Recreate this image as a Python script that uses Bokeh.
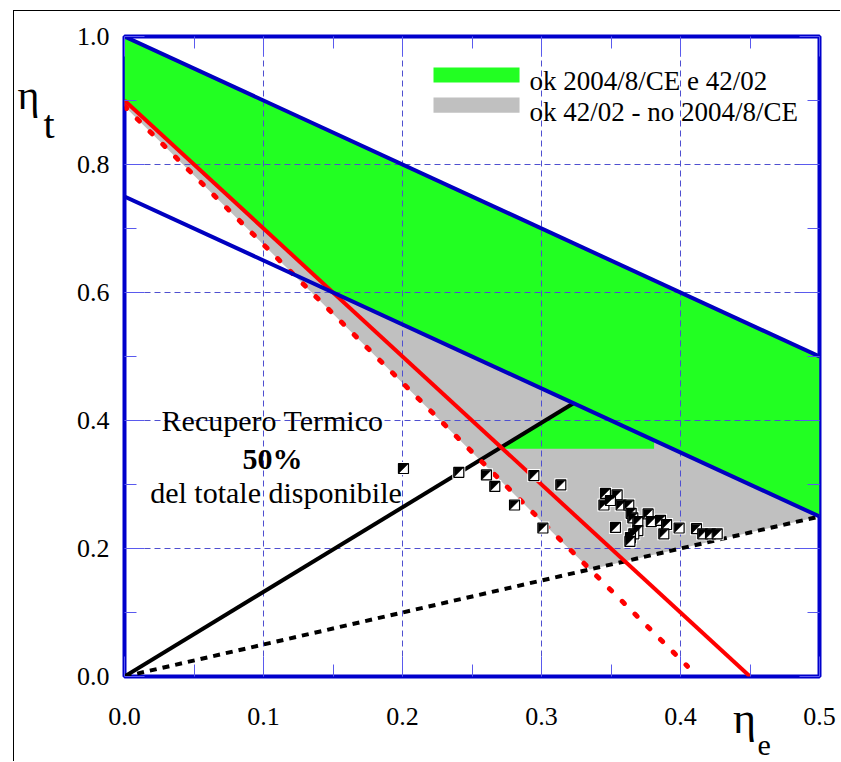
from bokeh.plotting import figure
from bokeh.models import LinearAxis, FixedTicker, Label, BoxAnnotation, Range1d, Grid
from bokeh.embed import file_html
from bokeh.resources import INLINE

# ---------------- data ----------------
x_major = [0.0, 0.1, 0.2, 0.3, 0.4, 0.5]
x_minor = [0.05, 0.15, 0.25, 0.35, 0.45]
x_tick_labels = ["0.0", "0.1", "0.2", "0.3", "0.4", "0.5"]
y_major = [0.0, 0.2, 0.4, 0.6, 0.8, 1.0]
y_minor = [0.1, 0.3, 0.5, 0.7, 0.9]
y_tick_labels = ["0.0", "0.2", "0.4", "0.6", "0.8", "1.0"]

# axis titles: symbol, subscript
y_title = ["η", "t"]
x_title = ["η", "e"]

# boundary lines (eta_e, eta_t)
blue_upper_x = [0.0, 0.5]
blue_upper_y = [1.0, 0.5]
blue_lower_x = [0.0, 0.5]
blue_lower_y = [0.75, 0.25]
red_x = [0.0, 0.45]
red_y = [0.9, 0.0]
red_dot_x = [0.0, 0.405]
red_dot_y = [0.891, 0.016]
black_x = [0.0, 0.323]
black_y = [0.0, 0.427]
black_dot_x = [0.0, 0.5]
black_dot_y = [0.0, 0.25]

# regions
green_xs = [[0.0, 0.5, 0.5, 0.15, 0.0], [0.270, 0.323, 0.381, 0.381]]
green_ys = [[1.0, 0.5, 0.25, 0.6, 0.9], [0.356, 0.427, 0.369, 0.356]]
gray_xs = [[0.0, 0.15, 0.5, 0.3348, 0.0]]
gray_ys = [[0.9, 0.6, 0.25, 0.167, 0.891]]

legend_labels = ["ok 2004/8/CE e 42/02", "ok 42/02 - no 2004/8/CE"]

# measured plants
eta_e = [0.2007, 0.2405, 0.2604, 0.2664, 0.2806, 0.2945, 0.3139, 0.301,
         0.346, 0.3544, 0.3449, 0.3496, 0.3573, 0.3628, 0.3645, 0.3657,
         0.3693, 0.3767, 0.379, 0.3856, 0.390, 0.388, 0.399, 0.3532,
         0.3693, 0.3664, 0.364, 0.3636, 0.4115, 0.416, 0.4216, 0.4264]
eta_t = [0.325, 0.319, 0.315, 0.297, 0.268, 0.314, 0.2995, 0.232,
         0.286, 0.284, 0.268, 0.275, 0.268, 0.268, 0.255, 0.248,
         0.242, 0.254, 0.242, 0.244, 0.2375, 0.223, 0.232, 0.233,
         0.228, 0.223, 0.217, 0.211, 0.231, 0.223, 0.223, 0.223]

# ---------------- style ----------------
FONT = "Liberation Serif"
BLUE = "#0000c0"
FRAME_W, FRAME_H = 695, 640
GREEN = "#22ff22"
GRAY = "#c0c0c0"
TICK = "#5a5aee"

p = figure(width=827, height=751, output_backend="svg", toolbar_location=None,
           x_range=Range1d(0, 0.5), y_range=Range1d(0, 1.0),
           min_border_left=110, min_border_right=22, min_border_top=25,
           min_border_bottom=86, x_axis_type=None, y_axis_type=None,
           background_fill_color="white", border_fill_color="white")
p.margin = (10, 0, 0, 13)
p.styles = {"border-left": "1px solid black", "border-top": "1px solid black"}

p.outline_line_color = "#0000cc"
p.outline_line_width = 4

xt = FixedTicker(ticks=x_major, minor_ticks=x_minor)
yt = FixedTicker(ticks=y_major, minor_ticks=y_minor)


def style_axis(ax):
    ax.axis_line_color = None
    ax.major_tick_in = 20
    ax.major_tick_out = 0
    ax.minor_tick_in = 12
    ax.minor_tick_out = 0
    ax.major_tick_line_color = TICK
    ax.minor_tick_line_color = TICK
    ax.major_tick_line_width = 1
    ax.minor_tick_line_width = 1
    ax.major_label_text_font = FONT
    ax.major_label_text_color = "black"
    ax.major_label_text_font_size = "26px"


def title_axis(ticks, labels, size, standoff):
    ax = LinearAxis(ticker=FixedTicker(ticks=ticks, minor_ticks=[]),
                    major_label_overrides=dict(zip(ticks, labels)))
    ax.axis_line_color = None
    ax.major_tick_line_color = None
    ax.minor_tick_line_color = None
    ax.major_tick_in = 0
    ax.major_tick_out = 0
    ax.minor_tick_in = 0
    ax.minor_tick_out = 0
    ax.major_label_text_font = FONT
    ax.major_label_text_color = "black"
    ax.major_label_text_font_size = size
    ax.major_label_standoff = standoff
    return ax


xb = LinearAxis(ticker=xt, major_label_overrides=dict(zip(x_major, x_tick_labels)))
style_axis(xb)
xb.major_label_standoff = 31
p.add_layout(xb, "below")
yl = LinearAxis(ticker=yt, major_label_overrides=dict(zip(y_major, y_tick_labels)))
style_axis(yl)
yl.major_label_standoff = 15
p.add_layout(yl, "left")

xa = LinearAxis(ticker=xt, major_label_overrides={v: "" for v in x_major})
style_axis(xa)
xa.major_label_standoff = 0
p.add_layout(xa, "above")
yr = LinearAxis(ticker=yt, major_label_overrides={v: "" for v in y_major})
style_axis(yr)
yr.major_label_standoff = 0
p.add_layout(yr, "right")

# axis titles eta_t (left, stacked outward) and eta_e (below, stacked downward)
p.add_layout(title_axis([0.863], [y_title[1]], "40px", 19), "left")
p.add_layout(title_axis([0.908], [y_title[0]], "42px", 1), "left")
p.add_layout(title_axis([0.446], [x_title[0]], "44px", -34), "below")
p.add_layout(title_axis([0.4601], [x_title[1]], "30px", -10), "below")

gx = Grid(dimension=0, ticker=FixedTicker(ticks=x_major))
gy = Grid(dimension=1, ticker=FixedTicker(ticks=y_major))
for g in (gx, gy):
    g.grid_line_color = "#4f4fd0"
    g.grid_line_dash = "6 4"
    g.grid_line_width = 1
    g.level = "underlay"
    p.add_layout(g)

# regions
p.patches(gray_xs, gray_ys, fill_color=GRAY, line_color=None, level="image")
p.patches(green_xs, green_ys, fill_color=GREEN, line_color=None, level="image")

# lines
p.line(black_dot_x, black_dot_y, line_color="black", line_width=4, line_dash="7 6")
p.line(black_x, black_y, line_color="black", line_width=4)
p.line(red_dot_x, red_dot_y, line_color="#ff0000", line_width=5, line_dash="3 15",
       line_cap="round")
p.line(red_x, red_y, line_color="#ff0000", line_width=4)
p.line(blue_upper_x, blue_upper_y, line_color=BLUE, line_width=4)
p.line(blue_lower_x, blue_lower_y, line_color=BLUE, line_width=4)

# markers: white halo, white square, black upper-left half
p.scatter(eta_e, eta_t, marker="square", size=13, fill_color="white", line_color=None)
p.scatter(eta_e, eta_t, marker="square", size=10, fill_color="white",
          line_color="black", line_width=1.2)
hx = 4.5 * 0.5 / FRAME_W
hy = 4.5 * 1.0 / FRAME_H
tri_xs = [[x - hx, x - hx, x + hx] for x in eta_e]
tri_ys = [[y - hy, y + hy, y + hy] for y in eta_t]
p.patches(tri_xs, tri_ys, fill_color="black", line_color="black", line_width=0.5)

# legend (manual)
p.add_layout(BoxAnnotation(left=0.2223, right=0.2842, bottom=0.928, top=0.9516,
                           fill_color=GREEN, fill_alpha=1, line_color=None))
p.add_layout(BoxAnnotation(left=0.2223, right=0.2842, bottom=0.881, top=0.9047,
                           fill_color=GRAY, fill_alpha=1, line_color=None))
for lab, yb in zip(legend_labels, [0.9302, 0.8817]):
    p.add_layout(Label(x=0.2914, y=yb, text=lab, text_font=FONT,
                       text_font_size="27px", text_color="black",
                       text_baseline="alphabetic"))

# annotation text
p.add_layout(Label(x=0.1065, y=0.4, text="Recupero Termico", text_font=FONT,
                   text_font_size="30px", text_color="black", text_align="center",
                   text_baseline="alphabetic"))
p.add_layout(Label(x=0.1065, y=0.3406, text="50%", text_font=FONT, text_font_style="bold",
                   text_font_size="30px", text_color="black", text_align="center",
                   text_baseline="alphabetic"))
p.add_layout(Label(x=0.109, y=0.288, text="del totale disponibile", text_font=FONT,
                   text_font_size="30px", text_color="black", text_align="center",
                   text_baseline="alphabetic"))

open("out.html", "w").write(file_html(p, INLINE))
